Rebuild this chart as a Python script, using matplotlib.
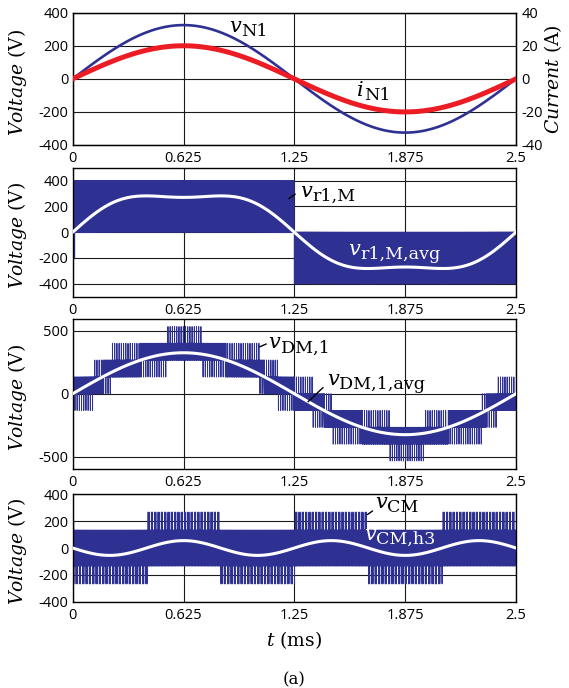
import numpy as np
import matplotlib

matplotlib.use("Agg")
import matplotlib.pyplot as plt

# ── Values ───────────────────────────────────────────────────────────────────
PERIOD_MS = 2.5                     # one 400 Hz period
X_TICKS = [0, 0.625, 1.25, 1.875, 2.5]
X_TICKLABELS = ["0", "0.625", "1.25", "1.875", "2.5"]

V_N1_PEAK = 325.0                   # V
I_N1_PEAK = 20.0                    # A
V_H3_PEAK = 55.0                    # third harmonic (CM) amplitude, V
V_R1M = 400.0                       # r1,M switches 0 / +-400 V

# v_DM,1 staircase blocks: start/end (ms), lower and upper level (V)
DM_EDGES = [0, 0.124, 0.224, 0.537, 0.735, 1.056, 1.16, 1.356,
            1.469, 1.79, 1.99, 2.31, 2.40, 2.5]
DM_LO = [-133, 0, 133, 267, 133, 0, -133, -267, -400, -533, -400, -267, -133]
DM_HI = [133, 267, 400, 533, 400, 267, 133, 0, -133, -267, -133, 0, 133]

# v_CM blocks: core switching +-133 V, excursions to +-267 V
CM_EDGES = [0, 0.425, 0.836, 1.257, 1.668, 2.089, 2.5]
CM_CORE = (-133, 133)
CM_EXC = [-267, 267, -267, 267, -267, 267]

# start-up spikes visible at t ~ 0 (time ms, level V)
R1M_SPIKE = (0.008, -200)
CM_SPIKE = (0.004, 200)

T_SW = 0.00625                      # apparent switching period, ms

BLUE = "#2E3192"
RED = "#EC1C24"

plt.rcParams["mathtext.fontset"] = "dejavuserif"
plt.rcParams["path.simplify"] = False
TICK_FONT = dict(family="Open Sans", size=10.5)
LABEL_FONT = dict(family="DejaVu Serif", size=13.5)


def sine(amp, harmonic, t):
    return amp * np.sin(2 * np.pi * harmonic * np.asarray(t) / PERIOD_MS)


def avg_r1m(t):
    return sine(V_N1_PEAK, 1, t) + sine(V_H3_PEAK, 3, t)


def avg_dm(t):
    return sine(V_N1_PEAK, 1, t)


def avg_cm(t):
    return -sine(V_H3_PEAK, 3, t)


def switched(edges, band, avg_fn, cycle=2, hits=1):
    """Centre-aligned pulses per carrier period, band(i, avg) -> lo, hi, exc.
    An excursion spike is drawn in `hits` out of every `cycle` periods."""
    xs, ys = [], []
    for i in range(len(edges) - 1):
        t0, t1 = edges[i], edges[i + 1]
        n = max(1, int(round((t1 - t0) / T_SW)))
        T = (t1 - t0) / n
        for k in range(n):
            a = t0 + k * T
            c = a + T / 2
            v = float(avg_fn(c))
            lo, hi, exc = band(i, v)
            d = np.clip((v - lo) / (hi - lo), 0.2, 0.8)
            xs += [a]
            ys += [lo]
            if exc is not None and k % cycle < hits:
                xs += [a + 0.02 * T, a + 0.02 * T, a + 0.08 * T, a + 0.08 * T]
                ys += [lo, exc, exc, lo]
            xs += [c - d * T / 2, c - d * T / 2, c + d * T / 2, c + d * T / 2]
            ys += [lo, hi, hi, lo]
        xs.append(t1)
        ys.append(ys[-1])
    return np.array(xs), np.array(ys)


def band_r1m(i, v):
    return (0, V_R1M, None) if i == 0 else (-V_R1M, 0, None)


def band_dm(i, v):
    lo, hi = DM_LO[i], DM_HI[i]
    mid = (lo + hi) / 2
    return (mid, hi, lo) if v >= mid else (lo, mid, hi)


def band_cm(i, v):
    return CM_CORE[0], CM_CORE[1], CM_EXC[i]


def sym(ax, x, y, main, sub, color="k", size=15):
    ax.text(x, y, r"$%s$" % main, color=color, fontsize=size,
            ha="left", va="baseline", zorder=6)
    ax.annotate(sub, (x, y), xytext=(0.58 * size if main == "v" else 0.36 * size,
                                     -0.2 * size),
                textcoords="offset points", color=color,
                fontsize=0.84 * size, family="DejaVu Serif",
                ha="left", va="baseline", zorder=6)


def leader(ax, p0, p1):
    ax.plot([p0[0], p1[0]], [p0[1], p1[1]], color="k", lw=1.0, zorder=6)


def style(ax, yticks):
    ax.set_xlim(0, PERIOD_MS)
    ax.set_xticks(X_TICKS)
    ax.set_xticklabels(X_TICKLABELS, **TICK_FONT)
    ax.set_yticks(yticks)
    ax.set_yticklabels([str(v) for v in yticks], **TICK_FONT)
    ax.tick_params(length=0, pad=3)
    ax.tick_params(axis="x", pad=4.5)
    ax.grid(True, color="#1a1a1a", lw=0.8)
    ax.set_axisbelow(True)
    for s in ax.spines.values():
        s.set_linewidth(1.0)


W, H = 569, 688
fig = plt.figure(figsize=(W / 100, H / 100), dpi=100)
L, R = 72.7, 516.0
boxes = [(12.7, 145.0), (167.7, 296.7), (319.0, 468.7), (494.3, 601.7)]
axes = [fig.add_axes([L / W, 1 - b / H, (R - L) / W, (b - t) / H]) for t, b in boxes]
ax1, ax2, ax3, ax4 = axes

t = np.linspace(0, PERIOD_MS, 1500)

# ── Panel 1: grid voltage and current ────────────────────────────────────────
ax1.plot(t, sine(V_N1_PEAK, 1, t), color=BLUE, lw=1.9, zorder=3)
ax1.set_ylim(-400, 400)
style(ax1, [400, 200, 0, -200, -400])
ax1r = ax1.twinx()
ax1r.plot(t, sine(I_N1_PEAK, 1, t), color=RED, lw=3.6, zorder=3)
ax1r.set_ylim(-40, 40)
ax1r.set_yticks([40, 20, 0, -20, -40])
ax1r.set_yticklabels(["40", "20", "0", "-20", "-40"], **TICK_FONT)
ax1r.tick_params(length=0, pad=4)
sym(ax1, 0.883, 286, "v", "N1")
sym(ax1, 1.60, -105, "i", "N1")

# ── Panel 2: r1,M switched voltage ───────────────────────────────────────────
x, y = switched([0, 1.25, 2.5], band_r1m, avg_r1m)
ax2.plot(x, y, color=BLUE, lw=0.7, zorder=2)
ax2.vlines(R1M_SPIKE[0], R1M_SPIKE[1], 0, color=BLUE, lw=1.0, zorder=2)
ax2.plot(t, avg_r1m(t), color="white", lw=2.2, zorder=4)
ax2.set_ylim(-500, 500)
style(ax2, [400, 200, 0, -200, -400])
leader(ax2, (1.22, 261), (1.254, 294))
sym(ax2, 1.283, 274, "v", "r1,M")
sym(ax2, 1.555, -175, "v", "r1,M,avg", color="white")

# ── Panel 3: differential-mode staircase ─────────────────────────────────────
x, y = switched(DM_EDGES, band_dm, avg_dm, cycle=2, hits=1)
ax3.plot(x, y, color=BLUE, lw=0.7, zorder=2)
ax3.plot(t, avg_dm(t), color="white", lw=2.2, zorder=4)
ax3.set_ylim(-595, 593)
style(ax3, [500, 0, -500])
leader(ax3, (1.056, 373), (1.09, 394))
sym(ax3, 1.104, 360, "v", "DM,1")
leader(ax3, (1.328, -63), (1.411, 48))
sym(ax3, 1.433, 69, "v", "DM,1,avg")

# ── Panel 4: common-mode voltage ─────────────────────────────────────────────
x, y = switched(CM_EDGES, band_cm, avg_cm, cycle=3, hits=2)
ax4.plot(x, y, color=BLUE, lw=0.7, zorder=2)
ax4.vlines(CM_SPIKE[0], CM_CORE[1], CM_SPIKE[1], color=BLUE, lw=1.0, zorder=2)
ax4.plot(t, avg_cm(t), color="white", lw=2.2, zorder=4)
ax4.set_ylim(-400, 400)
style(ax4, [400, 200, 0, -200, -400])
leader(ax4, (1.663, 250), (1.69, 275))
sym(ax4, 1.706, 300, "v", "CM")
sym(ax4, 1.64, 62, "v", "CM,h3", color="white")

# ── Axis titles ──────────────────────────────────────────────────────────────
for t_, b_ in boxes:
    fig.text(18 / W, 1 - (t_ + b_ + 6) / 2 / H, r"$\mathit{Voltage}$ (V)",
             rotation=90, ha="center", va="center", **LABEL_FONT)
fig.text(553 / W, 1 - 79 / H, r"$\mathit{Current}$ (A)",
         rotation=90, ha="center", va="center", **LABEL_FONT)
fig.text((L + R) / 2 / W, 1 - 640 / H, r"$t$ (ms)",
         ha="center", va="center", **LABEL_FONT)
fig.text((L + R) / 2 / W, 1 - 680 / H, "(a)", ha="center", va="center",
         family="DejaVu Serif", size=12)

fig.savefig("out.png", dpi=100)
